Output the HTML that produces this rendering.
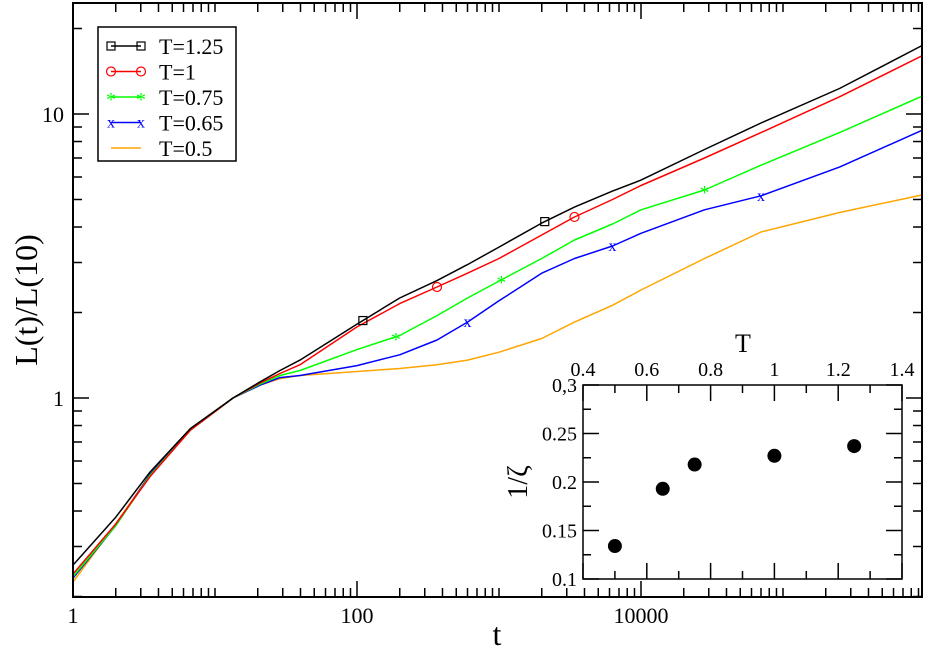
<!DOCTYPE html>
<html><head><meta charset="utf-8"><style>
body{margin:0;background:#fff}
svg{display:block}
text{font-family:"Liberation Serif","DejaVu Serif",serif}
</style></head><body>
<svg id="chart" width="927" height="654" viewBox="0 0 927 654" font-family="Liberation Serif, serif">
<g id="main"></g>
<g id="inset"></g>
</svg>
<script>
const tKnots=[1,2,3.5,6.7,13.4,20.8,28.7,39.7,100,200,366,600,1000,2000,3400,6300,10000,28000,70000,250000,970000];
const sT125=[0.258,0.38,0.55,0.78,1.0,1.14,1.25,1.36,1.82,2.25,2.59,2.95,3.4,4.13,4.7,5.35,5.85,7.5,9.3,12.3,17.5];
const sT1=[0.24,0.36,0.53,0.77,1.0,1.13,1.22,1.31,1.78,2.15,2.46,2.75,3.1,3.75,4.34,5.0,5.6,7.0,8.6,11.5,16.1];
const sT075=[0.235,0.355,0.535,0.77,1.0,1.12,1.2,1.25,1.48,1.66,1.95,2.25,2.58,3.1,3.6,4.1,4.6,5.4,6.6,8.6,11.6];
const sT065=[0.232,0.355,0.54,0.77,1.0,1.11,1.18,1.2,1.3,1.42,1.6,1.85,2.2,2.75,3.1,3.43,3.8,4.6,5.15,6.5,8.8];
const sT05=[0.225,0.36,0.54,0.77,1.0,1.11,1.17,1.2,1.24,1.27,1.31,1.36,1.45,1.62,1.85,2.12,2.4,3.1,3.84,4.5,5.2];
const markT125=[110,2100],markT1=[366,3400],markT075=[188,1040,28000],markT065=[600,6300,70000];
const insetT=[0.5,0.65,0.75,1.0,1.25];
const insetZ=[0.134,0.193,0.218,0.227,0.237];
const xTickLabels=["1","100","10000"],yTickLabels=["1","10"];
const insetXTicks=["0.4","0.6","0.8","1","1.2","1.4"],insetYTicks=["0.1","0.15","0.2","0.25","0,3"];

const NS="http://www.w3.org/2000/svg";
const SERIF='"Liberation Serif", serif';
function mk(parent,tag,attrs,name){const e=document.createElementNS(NS,tag);for(const k in attrs)e.setAttribute(k,attrs[k]);
if(tag==='text'&&!attrs['font-family'])e.setAttribute('font-family',SERIF);


parent.appendChild(e);return e;}
const L=73,R=922,T=3,B=597;
const X=t=>L+142*Math.log10(t);
const Y=v=>398-284*Math.log10(v);
const interpY=(ts,vs,t)=>{const lt=Math.log10(t);for(let i=0;i<ts.length-1;i++){const a=Math.log10(ts[i]),b=Math.log10(ts[i+1]);if(lt>=a&&lt<=b){const f=(lt-a)/(b-a);return Math.pow(10,Math.log10(vs[i])*(1-f)+Math.log10(vs[i+1])*f);}}return vs[vs.length-1];};
const main=document.getElementById('main');
const clip=mk(main,'clipPath',{id:'cp'},'plot-clip');mk(clip,'rect',{x:L,y:T,width:R-L,height:B-T},'clip-rect');
const series=[[sT125,'#000','T=1.25',markT125,'sq'],[sT1,'#f00','T=1',markT1,'ci'],[sT075,'#0f0','T=0.75',markT075,'st'],[sT065,'#00f','T=0.65',markT065,'x'],[sT05,'#ffa500','T=0.5',[],null]];
function marker(g,x,y,type,c,name){
 if(type==='sq')mk(g,'rect',{x:x-4,y:y-4,width:8,height:8,fill:'none',stroke:c,'stroke-width':1.2},name);
 else if(type==='ci')mk(g,'circle',{cx:x,cy:y,r:4.5,fill:'none',stroke:c,'stroke-width':1.2},name);
 else if(type==='st')mk(g,'text',{x:x,y:y+9,'text-anchor':'middle','font-size':20,fill:c},name).textContent='*';
 else if(type==='x')mk(g,'text',{x:x,y:y+5,'text-anchor':'middle','font-size':16,fill:c},name).textContent='x';
}
const lines=mk(main,'g',{'clip-path':'url(#cp)'},'series-group');
series.slice().reverse().forEach(s=>{
 const pts=tKnots.map((t,i)=>X(t).toFixed(1)+','+Y(s[0][i]).toFixed(1)).join(' ');
 mk(lines,'polyline',{points:pts,fill:'none',stroke:s[1],'stroke-width':1.5,'stroke-linejoin':'round'},'line-'+s[2].replace(/[=.]/g,'-').toLowerCase());
 s[3].forEach(t=>marker(lines,X(t),Y(interpY(tKnots,s[0],t)),s[4],s[1],'marker'));
});
mk(main,'rect',{x:L,y:T,width:R-L,height:B-T,fill:'none',stroke:'#000','stroke-width':2},'plot-frame');
for(let d=0;d<6;d++){for(let m=1;m<10;m++){const t=Math.pow(10,d)*m;const x=X(t);if(x>R)break;const len=(m===1&&d%2===0)?16:9;
 mk(main,'line',{x1:x,y1:B,x2:x,y2:B-len,stroke:'#000','stroke-width':1.5},'x-tick');mk(main,'line',{x1:x,y1:T,x2:x,y2:T+len,stroke:'#000','stroke-width':1.5},'x-tick-top');}}
xTickLabels.forEach(l=>{mk(main,'text',{x:X(+l),y:623,'text-anchor':'middle','font-size':22},'x-tick-label').textContent=l;});
[0.1,1,10].forEach(dv=>{for(let m=1;m<10;m++){const v=dv*m;if(v<0.2||v>25)continue;const y=Y(v);const len=m===1?16:9;
 mk(main,'line',{x1:L,y1:y,x2:L+len,y2:y,stroke:'#000','stroke-width':1.5},'y-tick');mk(main,'line',{x1:R,y1:y,x2:R-len,y2:y,stroke:'#000','stroke-width':1.5},'y-tick-right');}});
yTickLabels.forEach(l=>{mk(main,'text',{x:64,y:Y(+l)+8,'text-anchor':'end','font-size':22},'y-tick-label').textContent=l;});
mk(main,'text',{x:497,y:645,'text-anchor':'middle','font-size':32},'x-axis-title').textContent='t';
mk(main,'text',{x:0,y:0,'text-anchor':'middle','font-size':32,transform:'translate(37,300) rotate(-90)'},'y-axis-title').textContent='L(t)/L(10)';
const lg=mk(main,'g',{},'legend');
mk(lg,'rect',{x:98,y:27,width:138,height:134,fill:'#fff',stroke:'#000','stroke-width':1.5},'legend-box');
series.forEach((s,i)=>{const y=46+i*25.5;
 mk(lg,'line',{x1:111,y1:y,x2:141,y2:y,stroke:s[1],'stroke-width':1.5},'legend-line');
 if(s[4]){marker(lg,111,y,s[4],s[1],'legend-marker');marker(lg,141,y,s[4],s[1],'legend-marker');}
 mk(lg,'text',{x:159,y:y+8,'font-size':22},'legend-entry').textContent=s[2];});
const ins=document.getElementById('inset');
const IL=583,IR=902,IT=385,IB=579;
const IX=v=>IL+(v-0.4)/1.0*(IR-IL), IY=v=>IB-(v-0.1)/0.2*(IB-IT);
mk(ins,'rect',{x:IL,y:IT,width:IR-IL,height:IB-IT,fill:'#fff',stroke:'#000','stroke-width':1.5},'inset-frame');
for(let k=0;k<=10;k++){const x=IX(0.4+k*0.1);const len=k%2===0?16:8;
 mk(ins,'line',{x1:x,y1:IB,x2:x,y2:IB-len,stroke:'#000','stroke-width':1.5},'inset-x-tick');
 mk(ins,'line',{x1:x,y1:IT,x2:x,y2:IT+len,stroke:'#000','stroke-width':1.5},'inset-x-tick-top');}
for(let k=0;k<=8;k++){const y=IY(0.1+k*0.025);const len=k%2===0?16:8;
 mk(ins,'line',{x1:IL,y1:y,x2:IL+len,y2:y,stroke:'#000','stroke-width':1.5},'inset-y-tick');
 mk(ins,'line',{x1:IR,y1:y,x2:IR-len,y2:y,stroke:'#000','stroke-width':1.5},'inset-y-tick-right');}
insetXTicks.forEach(l=>{mk(ins,'text',{x:IX(+l),y:376,'text-anchor':'middle','font-size':20},'inset-x-tick-label').textContent=l;});
insetYTicks.forEach((l,i)=>{mk(ins,'text',{x:577,y:IY(0.1+i*0.05)+7,'text-anchor':'end','font-size':20},'inset-y-tick-label').textContent=l;});
mk(ins,'text',{x:743,y:352,'text-anchor':'middle','font-size':26},'inset-x-title').textContent='T';
mk(ins,'text',{x:0,y:0,'text-anchor':'middle','font-size':28,transform:'translate(527,482) rotate(-90)'},'inset-y-title').textContent='1/ζ';
insetT.forEach((t,i)=>mk(ins,'circle',{cx:IX(t),cy:IY(insetZ[i]),r:7,fill:'#000'},'inset-point'));
</script>
</body></html>
